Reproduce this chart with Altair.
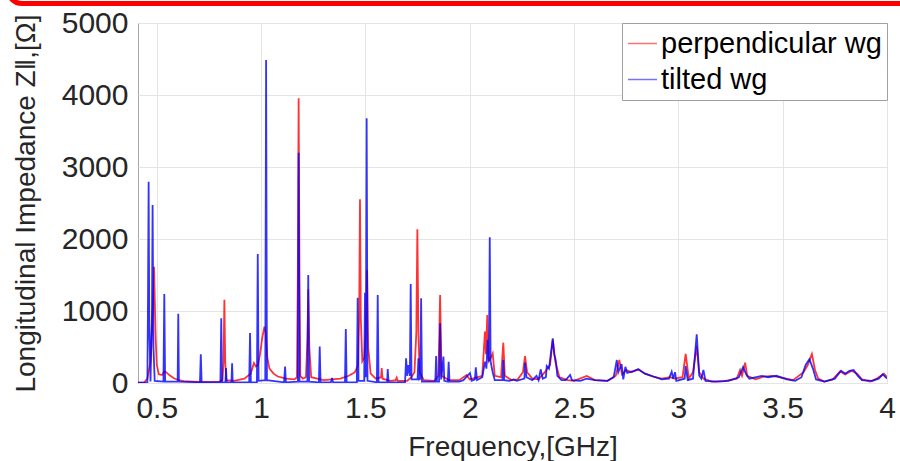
import altair as alt
import pandas as pd

series_names = ["perpendicular wg", "tilted wg"]
series_colors = ["#ff0000", "#0000ff"]

x_ticks = [0.5, 1, 1.5, 2, 2.5, 3, 3.5, 4]
y_ticks = [0, 1000, 2000, 3000, 4000, 5000]

red_freq = [0.41, 0.44, 0.455, 0.47, 0.478, 0.484, 0.487, 0.49, 0.495, 0.5, 0.51, 0.525, 0.535, 0.545, 0.56, 0.58, 0.6, 0.63, 0.7, 0.8,
            0.815, 0.82, 0.824, 0.828, 0.833, 0.87, 0.92, 0.95, 0.966, 0.975, 0.985, 0.995, 1.005, 1.016, 1.022, 1.03, 1.04, 1.06, 1.08, 1.12,
            1.16, 1.172, 1.176, 1.18, 1.184, 1.188, 1.2, 1.215, 1.222, 1.226, 1.231, 1.24, 1.3, 1.38, 1.42, 1.45, 1.465, 1.47, 1.474, 1.478,
            1.485, 1.495, 1.502, 1.508, 1.513, 1.525, 1.55, 1.575, 1.578, 1.582, 1.62, 1.645, 1.65, 1.655, 1.7, 1.72, 1.735, 1.744, 1.749, 1.754,
            1.76, 1.78, 1.83, 1.85, 1.858, 1.865, 1.9, 1.95, 1.985, 2.0, 2.06, 2.073, 2.078, 2.084, 2.09, 2.1, 2.11, 2.12, 2.15, 2.161,
            2.168, 2.2, 2.23, 2.255, 2.265, 2.275, 2.3, 2.33, 2.36, 2.385, 2.398, 2.41, 2.43, 2.47, 2.5, 2.561, 2.6, 2.66, 2.7, 2.717,
            2.73, 2.75, 2.775, 2.808, 2.84, 2.88, 2.92, 2.96, 2.98, 3.02, 3.035, 3.05, 3.07, 3.088, 3.1, 3.12, 3.16, 3.22, 3.28, 3.296,
            3.305, 3.32, 3.33, 3.37, 3.41, 3.45, 3.5, 3.55, 3.6, 3.62, 3.64, 3.655, 3.67, 3.7, 3.74, 3.775, 3.8, 3.83, 3.857, 3.88,
            3.92, 3.95, 3.985, 4.0]
red_z = [5, 10, 60, 300, 800, 1300, 1615, 1200, 600, 250, 120, 110, 160, 150, 110, 70, 45, 25, 15, 20,
         40, 300, 1157, 300, 40, 30, 60, 130, 277, 230, 250, 400, 620, 782, 700, 350, 200, 130, 90, 60,
         50, 80, 1500, 3954, 1500, 100, 60, 80, 600, 1301, 500, 80, 40, 60, 100, 150, 250, 900, 2551, 900,
         300, 350, 700, 1569, 500, 130, 60, 80, 208, 60, 30, 40, 74, 30, 30, 80, 150, 700, 2134, 700,
         150, 40, 30, 100, 1222, 100, 40, 40, 111, 50, 100, 713, 400, 944, 300, 350, 412, 100, 80, 560,
         100, 40, 50, 150, 375, 150, 60, 50, 150, 250, 600, 300, 80, 40, 30, 97, 40, 30, 100, 319,
         120, 180, 150, 190, 130, 90, 60, 80, 60, 80, 403, 60, 150, 505, 150, 60, 20, 25, 60, 180,
         100, 282, 100, 50, 90, 100, 70, 40, 150, 250, 403, 180, 60, 20, 50, 160, 120, 170, 130, 50,
         20, 60, 130, 80]

blue_freq = [0.41, 0.455, 0.458, 0.461, 0.464, 0.47, 0.477, 0.48, 0.484, 0.49, 0.532, 0.536, 0.54, 0.6, 0.603, 0.606, 0.707, 0.711, 0.715, 0.805,
             0.809, 0.813, 0.829, 0.832, 0.835, 0.858, 0.861, 0.864, 0.943, 0.947, 0.951, 0.98, 0.984, 0.988, 1.02, 1.024, 1.028, 1.11, 1.115, 1.119,
             1.176, 1.18, 1.184, 1.222, 1.226, 1.23, 1.277, 1.281, 1.285, 1.335, 1.34, 1.345, 1.402, 1.406, 1.41, 1.459, 1.463, 1.467, 1.494, 1.498,
             1.502, 1.506, 1.51, 1.555, 1.559, 1.563, 1.604, 1.607, 1.611, 1.69, 1.695, 1.7, 1.705, 1.713, 1.717, 1.721, 1.75, 1.754, 1.758, 1.763,
             1.767, 1.771, 1.835, 1.839, 1.843, 1.853, 1.858, 1.863, 1.874, 1.878, 1.895, 1.899, 1.903, 1.95, 1.97, 2.001, 2.01, 2.025, 2.029, 2.035,
             2.06, 2.073, 2.08, 2.086, 2.092, 2.096, 2.1, 2.11, 2.12, 2.157, 2.161, 2.165, 2.19, 2.21, 2.225, 2.262, 2.265, 2.272, 2.3, 2.32,
             2.33, 2.34, 2.35, 2.365, 2.369, 2.38, 2.398, 2.405, 2.412, 2.42, 2.44, 2.46, 2.481, 2.49, 2.53, 2.56, 2.6, 2.66, 2.69, 2.705,
             2.712, 2.728, 2.736, 2.746, 2.755, 2.78, 2.808, 2.84, 2.88, 2.92, 2.955, 2.968, 2.975, 2.984, 2.99, 3.03, 3.035, 3.045, 3.07, 3.088,
             3.1, 3.11, 3.12, 3.13, 3.18, 3.24, 3.29, 3.31, 3.325, 3.34, 3.4, 3.43, 3.47, 3.52, 3.56, 3.59, 3.61, 3.628, 3.645, 3.66,
             3.7, 3.75, 3.78, 3.8, 3.82, 3.84, 3.86, 3.88, 3.93, 3.96, 3.98, 4.0]
blue_z = [5, 10, 1200, 2796, 800, 20, 1000, 2472, 500, 30, 20, 1236, 20, 20, 963, 20, 10, 398, 10, 10,
          898, 10, 10, 208, 10, 10, 273, 10, 10, 694, 10, 10, 1792, 30, 40, 4486, 40, 10, 227, 10,
          20, 3199, 20, 20, 1500, 20, 10, 505, 10, 10, 70, 10, 10, 750, 10, 10, 1185, 30, 30, 1255,
          80, 3676, 30, 10, 1222, 10, 10, 194, 10, 10, 343, 100, 250, 100, 1375, 50, 50, 343, 50, 60,
          1176, 20, 20, 375, 20, 20, 829, 50, 366, 30, 20, 296, 20, 20, 40, 139, 30, 50, 218, 40,
          80, 296, 200, 600, 300, 2024, 300, 150, 40, 40, 319, 40, 30, 50, 30, 60, 282, 80, 40, 100,
          40, 190, 60, 80, 236, 200, 620, 400, 320, 100, 40, 40, 111, 40, 30, 60, 40, 30, 80, 319,
          150, 264, 50, 225, 140, 160, 190, 130, 90, 50, 60, 157, 60, 150, 30, 60, 236, 40, 60, 676,
          100, 60, 180, 30, 20, 30, 80, 220, 120, 60, 100, 80, 100, 50, 30, 80, 250, 329, 200, 50,
          20, 60, 170, 130, 170, 180, 100, 40, 30, 60, 120, 60]

df = pd.concat([
    pd.DataFrame({"freq": red_freq, "z": red_z, "series": series_names[0]}),
    pd.DataFrame({"freq": blue_freq, "z": blue_z, "series": series_names[1]}),
], ignore_index=True)

FONT = "Liberation Sans"

lines = alt.Chart(df).mark_line(strokeWidth=1.8, opacity=0.8, clip=True).encode(
    x=alt.X("freq:Q",
            scale=alt.Scale(domain=[0.41, 4], nice=False, zero=False),
            axis=alt.Axis(values=x_ticks, format="~g", title="Frequency,[GHz]",
                          labelFlush=False, titleY=72, titleBaseline="alphabetic")),
    y=alt.Y("z:Q",
            scale=alt.Scale(domain=[0, 5000], nice=False),
            axis=alt.Axis(values=y_ticks, format="d", title="Longitudinal Impedance Z‖,[Ω]",
                          titleX=-112, titleY=180, titleAngle=-90, titleAlign="center",
                          titleBaseline="middle")),
    color=alt.Color("series:N",
                    scale=alt.Scale(domain=series_names, range=series_colors),
                    legend=alt.Legend(title=None, orient="top-right", offset=0,
                                      symbolType="stroke", symbolSize=841, symbolStrokeWidth=1.5,
                                      symbolOpacity=0.55, labelFontSize=29, labelFont=FONT,
                                      labelColor="#000000", labelOffset=3, labelLimit=0,
                                      padding=5, rowPadding=5,
                                      strokeColor="#a0a0a0", fillColor="white", cornerRadius=0)),
    order=alt.Order("freq:Q"),
)

border = alt.Chart(pd.DataFrame({"a": [0]})).mark_rect(
    filled=False, stroke="#ff0000", strokeWidth=5, cornerRadius=14
).encode(x=alt.value(-130), x2=alt.value(800), y=alt.value(-80), y2=alt.value(-19.5))

chart = alt.layer(lines, border).properties(
    width=749, height=360,
    autosize=alt.AutoSizeParams(type="none"),
    padding={"left": 138, "top": 23, "right": 13, "bottom": 78},
).configure_view(
    stroke="#a8a8a8", strokeWidth=1
).configure_axis(
    labelFont=FONT, labelFontSize=30, labelColor="#262626",
    titleFont=FONT, titleFontSize=28, titleColor="#262626", titleFontWeight="normal",
    gridColor="#e4e4e4", gridWidth=1, domain=False, tickSize=0, labelPadding=10,
).configure_axisY(
    labelBaseline="middle"
)

chart.save("out.html", embed_options={"renderer": "svg", "actions": False})
